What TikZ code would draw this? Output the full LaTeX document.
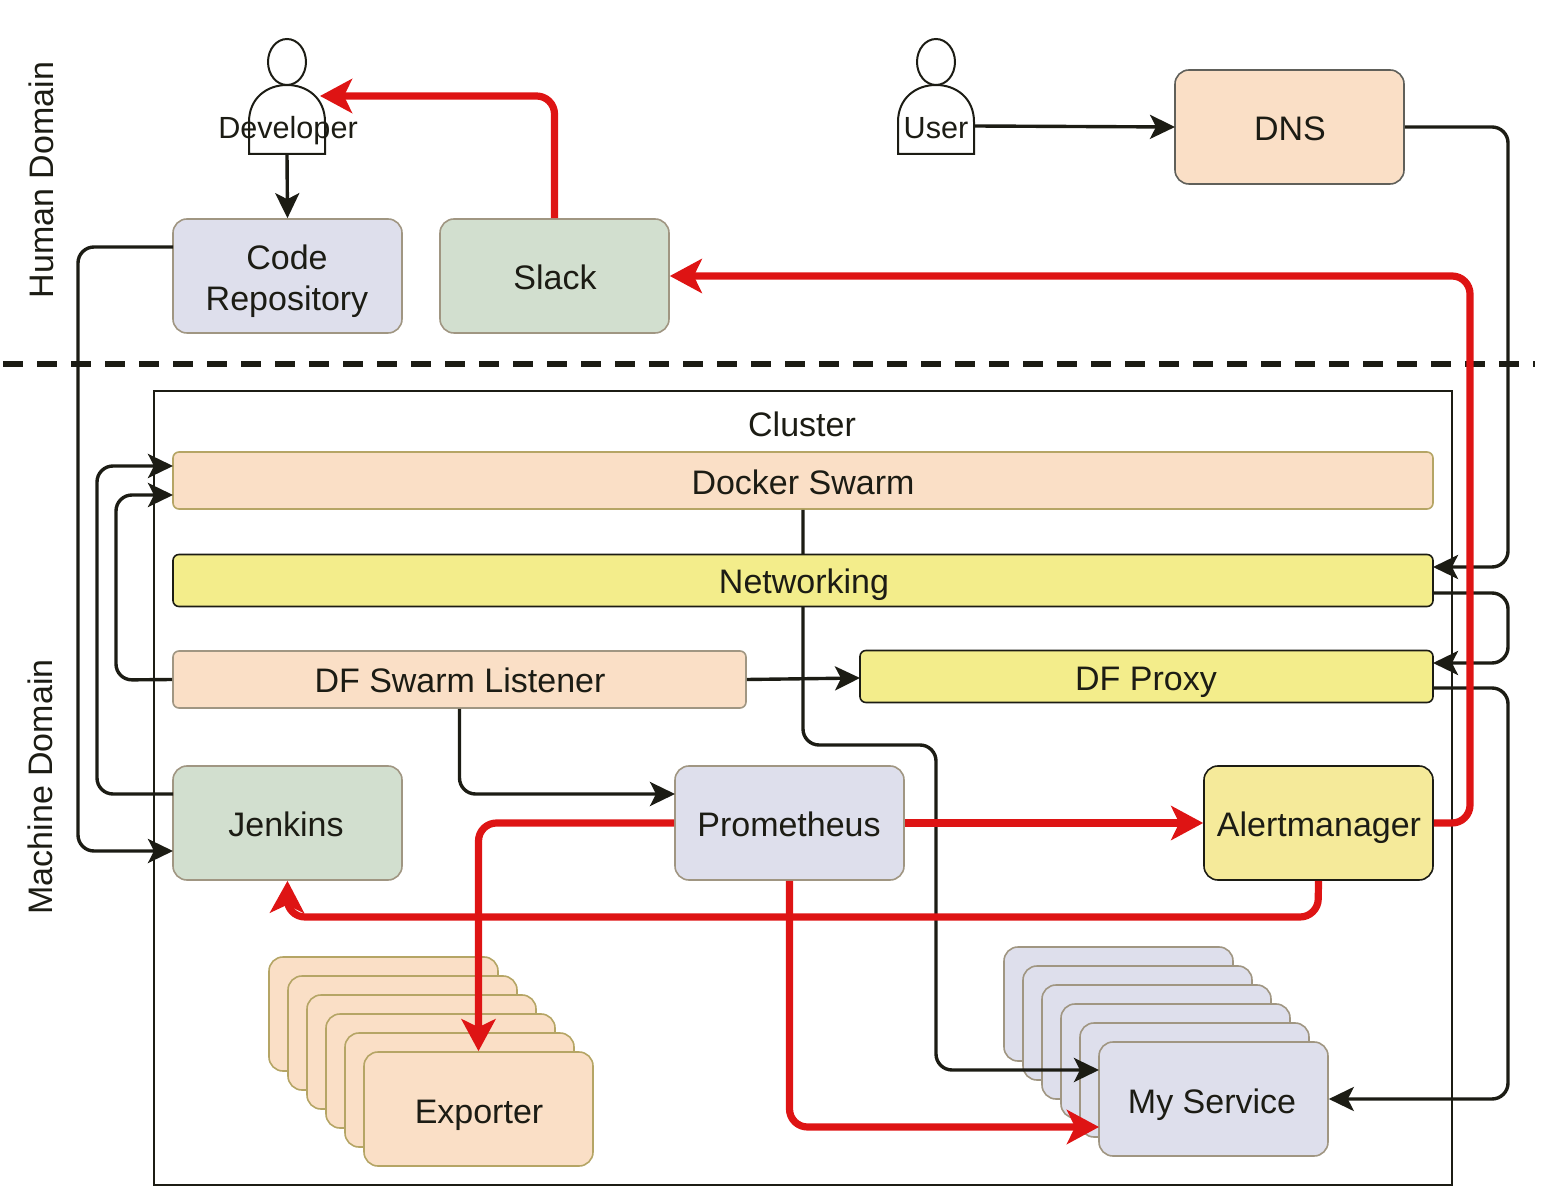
\documentclass[tikz,border=0pt]{standalone}
\usepackage{fontspec}
\setmainfont{Liberation Sans}
\usetikzlibrary{arrows.meta, positioning}
\definecolor{lavender}{HTML}{DEDFEC}
\definecolor{sage}{HTML}{D2DFCF}
\definecolor{peach}{HTML}{FADFC6}
\definecolor{lemon}{HTML}{F3ED8B}
\definecolor{edgegrey}{HTML}{A09682}
\definecolor{edgeochre}{HTML}{B5A565}
\definecolor{ink}{HTML}{1C1C14}
\definecolor{alarm}{HTML}{DE1414}
\tikzset{
  box/.style={rectangle, rounded corners=7pt, draw=edgegrey, line width=.8pt, text=ink,
    minimum width=114.5pt, minimum height=57pt, inner sep=0pt, align=center},
  bar/.style={box, rounded corners=3pt, minimum height=28.5pt},
  flow/.style={-{Stealth[length=12.5pt, width=12pt, inset=3pt]}, draw=ink, line width=1.7pt, rounded corners=8pt},
  alert/.style={-{Stealth[length=16pt, width=17pt, inset=4pt]}, draw=alarm, line width=3.6pt, rounded corners=9pt},
  label/.style={text=ink, inner sep=0pt},
  baselabel/.style={label, anchor=base},
  personlabel/.style={baselabel, font=\fontsize{15.3}{18}\selectfont},
}
\begin{document}
\begin{tikzpicture}[x=.5pt, y=-.5pt, font=\fontsize{17}{20.5}\selectfont]
\useasboundingbox (0,0) rectangle (1552,1186);
% domains
\node[label, rotate=90] (humandomain) at (41,180) {Human Domain};
\node[label, rotate=90] (machinedomain) at (40,787) {Machine Domain};
\coordinate (splitleft) at (3,364);
\coordinate (splitright) at (1535,364);
\draw[draw=ink, line width=3pt, dash pattern=on 10pt off 7pt] (splitleft) -- (splitright);
% cluster
\node[rectangle, draw=ink, line width=1pt, minimum width=649pt, minimum height=397pt] (cluster) at (803,788) {};
\node[baselabel] (clusterlabel) at (802,437) {Cluster};
\node[bar, fill=peach, draw=edgeochre, minimum width=630pt] (docker) at (803,480.5) {};
\node[baselabel] (dockerlabel) at (803,495) {Docker Swarm};
% stacks
\foreach \i in {5,4,3,2,1}
  \node[box, fill=peach, draw=edgeochre] (exporter\i) at ({478.5-19*\i},{1109-19*\i}) {};
\node[box, fill=peach, draw=edgeochre] (exporter) at (478.5,1109) {};
\node[baselabel] (exporterlabel) at (479,1123) {Exporter};
\foreach \i in {5,4,3,2,1}
  \node[box, fill=lavender] (service\i) at ({1213.5-19*\i},{1099-19*\i}) {};
\node[box, fill=lavender] (service) at (1213.5,1099) {};
\node[baselabel] (servicelabel) at (1212,1113) {My Service};
% passes behind networking
\coordinate (servicein) at (1099,1070);
\draw[flow] (docker.south) -- (803,745) -- (936,745) -- (936,1070) -- (servicein);
\node[bar, fill=lemon, draw=ink, minimum height=26pt, minimum width=630pt] (networking) at (803,580.5) {};
\node[baselabel] (networkinglabel) at (804,594) {Networking};
\node[bar, fill=peach, minimum width=286.5pt] (listener) at (459.5,679.5) {};
\node[baselabel] (listenerlabel) at (460,693) {DF Swarm Listener};
\node[bar, fill=lemon, draw=ink, minimum height=26pt, minimum width=286.5pt] (proxy) at (1146.5,676.5) {};
\node[baselabel] (proxylabel) at (1146,690) {DF Proxy};
% boxes
\node[box, fill=lavender] (code) at (287.5,276) {};
\node[label, align=center] (codelabel) at (287,281) {Code\\Repository};
\node[box, fill=sage] (slack) at (554.5,276) {};
\node[baselabel] (slacklabel) at (555,290) {Slack};
\node[box, fill=peach, draw=ink!70] (dns) at (1289.5,127) {};
\node[baselabel] (dnslabel) at (1290,141) {DNS};
\node[box, fill=sage] (jenkins) at (287.5,823) {};
\node[baselabel] (jenkinslabel) at (286,836) {Jenkins};
\node[box, fill=lavender] (prometheus) at (789.5,823) {};
\node[baselabel] (prometheuslabel) at (789,836) {Prometheus};
\node[box, fill=lemon!75!peach, draw=ink] (alertmanager) at (1318.5,823) {};
\node[baselabel] (alertmanagerlabel) at (1319,836) {Alertmanager};
% people
\foreach \px/\pname in {287/developer, 936/user} {
  \begin{scope}[shift={(\px,0)}]
    \draw[draw=ink, line width=1pt] (0,62) ellipse [x radius=19, y radius=23];
    \draw[draw=ink, line width=1pt] (-38,154) -- (-38,122) .. controls (-38,98) and (-20,85) .. (0,85)
      .. controls (20,85) and (38,98) .. (38,122) -- (38,154) -- cycle;
    \node[minimum width=38pt, minimum height=34.5pt, inner sep=0pt] (\pname body) at (0,119.5) {};
  \end{scope}
}
\node[personlabel] (developer) at (288,139) {Developer};
\node[personlabel] (user) at (936,139) {User};
% black flows
\coordinate (developerin) at (320,96);
\coordinate (userout) at (974,126);
\coordinate (dnsin) at (1175,127);
\coordinate (codeout) at (173,247);
\coordinate (jenkinsin) at (173,851);
\coordinate (jenkinsout) at (173,794);
\coordinate (dockerina) at (173,466);
\coordinate (dockerinb) at (173,495);
\coordinate (netin) at (1433,567);
\coordinate (netout) at (1433,593);
\coordinate (proxyin) at (1433,663);
\coordinate (proxyout) at (1433,688);
\coordinate (prominb) at (675,794);
\coordinate (proxyleft) at (860,678);
\draw[flow] (developerbody.south) -- (code.north);
\draw[flow] (userout) -- (dnsin);
\draw[flow] (dns.east) -- (1508,127) -- (1508,567) -- (netin);
\draw[flow] (netout) -- (1508,593) -- (1508,663) -- (proxyin);
\draw[flow] (proxyout) -- (1508,688) -- (1508,1099) -- (service.east);
\draw[flow] (codeout) -- (78,247) -- (78,851) -- (jenkinsin);
\draw[flow] (jenkinsout) -- (97,794) -- (97,466) -- (dockerina);
\draw[flow] (listener.west) -- (116,680) -- (116,495) -- (dockerinb);
\draw[flow] (listener.east) -- (proxyleft);
\draw[flow] (listener.south) |- (prominb);
% red flows
\coordinate (servicered) at (1099,1127);
\draw[alert] (slack.north) |- (developerin);
\draw[alert] (alertmanager.east) -- (1470,823) -- (1470,276) -- (slack.east);
\draw[alert] (prometheus.east) -- (alertmanager.west);
\draw[alert] (prometheus.west) -| (exporter.north);
\draw[alert] (prometheus.south) |- (servicered);
\draw[alert] (alertmanager.south) -- (1318,917) -- (287,917) -- (jenkins.south);
\end{tikzpicture}
\end{document}
